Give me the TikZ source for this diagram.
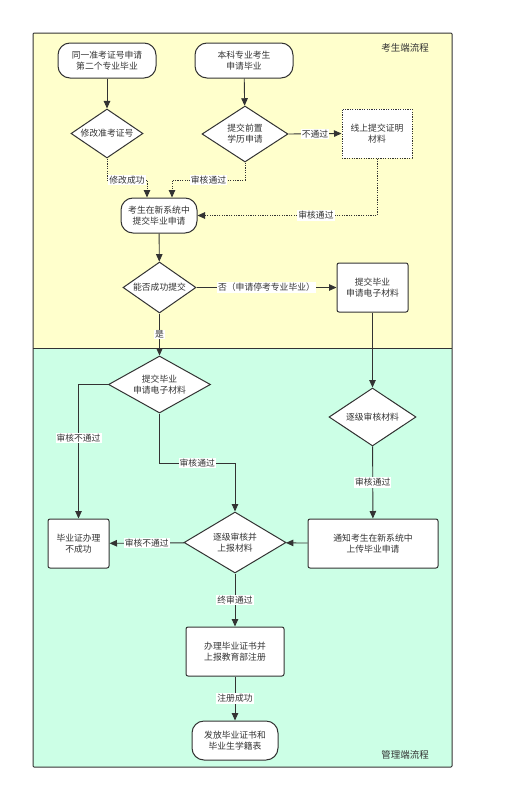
\documentclass[tikz,border=0pt]{standalone}
\usepackage{fontspec}
\newfontfamily\cjk{Noto Sans CJK SC}
\usetikzlibrary{shapes.geometric,arrows.meta,calc}
\definecolor{ylw}{HTML}{FFFFCC}
\definecolor{grn}{HTML}{CCFFE6}
\definecolor{ln}{HTML}{333333}
\begin{document}
\begin{tikzpicture}[x=1pt,y=-1pt,
  every node/.style={font=\cjk\fontsize{8.8}{11}\selectfont,text=ln,align=center},
  term/.style={draw=ln,line width=1pt,fill=white,rounded corners=12pt,inner sep=0pt},
  proc/.style={draw=ln,line width=1pt,fill=white,rounded corners=2pt,inner sep=0pt},
  dproc/.style={draw=ln,line width=1pt,fill=white,dash pattern=on 1.2pt off 1.2pt,inner sep=0pt},
  dec/.style={draw=ln,line width=1pt,fill=white,diamond,shape aspect=1.7,inner sep=0pt},
  arr/.style={draw=ln,line width=0.9pt,-{Triangle[length=7.5pt,width=6.5pt]}},
  darr/.style={arr,dash pattern=on 1.2pt off 1.2pt},
  lbl/.style={fill=white,inner sep=1pt}]
\useasboundingbox (0,0) rectangle (505,811);
% lanes
\fill[ylw] (33,33) rectangle (452,348);
\fill[grn] (33,348) rectangle (452,767);
\draw[ln,line width=1pt,rounded corners=1pt] (33,33) rectangle (452,767);
\draw[ln,line width=1pt] (33,348) -- (452,348);
\node (lane1) at (405,48) {\fontsize{9.5}{11}\selectfont 考生端流程};
\node (lane2) at (405,755) {\fontsize{9.5}{11}\selectfont 管理端流程};
% nodes
\node[term,minimum width=98pt,minimum height=35pt] (A) at (107,60.5) {同一准考证号申请\\第二个专业毕业};
\node[term,minimum width=98pt,minimum height=35pt] (B) at (244,60.5) {本科专业考生\\申请毕业};
\node[dec,minimum width=72pt,minimum height=49pt] (D1) at (107,133.5) {修改准考证号};
\node[dec,minimum width=86pt,minimum height=56pt] (D2) at (245,134) {提交前置\\学历申请};
\node[dproc,minimum width=70pt,minimum height=49pt] (C) at (377,133.5) {线上提交证明\\材料};
\node[term,minimum width=76pt,minimum height=35pt] (E) at (159,215.5) {考生在新系统中\\提交毕业申请};
\node[dec,minimum width=73pt,minimum height=51pt] (D3) at (159.5,287.5) {能否成功提交};
\node[proc,minimum width=71pt,minimum height=49pt] (F) at (372.5,287.5) {提交毕业\\申请电子材料};
\node[dec,minimum width=102pt,minimum height=57pt] (D4) at (159.5,384.5) {提交毕业\\申请电子材料};
\node[dec,minimum width=87pt,minimum height=58pt] (D5) at (372.5,417) {逐级审核材料};
\node[proc,minimum width=61pt,minimum height=49pt] (G) at (78.5,543.5) {毕业证办理\\不成功};
\node[dec,minimum width=102pt,minimum height=61pt] (D6) at (235,542.5) {逐级审核并\\上报材料};
\node[proc,minimum width=130pt,minimum height=49pt] (H) at (373,543.5) {通知考生在新系统中\\上传毕业申请};
\node[proc,minimum width=98pt,minimum height=49pt] (I) at (235,651.5) {办理毕业证书并\\上报教育部注册};
\node[term,minimum width=86pt,minimum height=39pt] (J) at (235,740.5) {发放毕业证书和\\毕业生学籍表};
% helper coordinates
\coordinate (e1) at ($(E.north)+(-12,0)$);
\coordinate (e2) at ($(E.north)+(13,0)$);
% connectors
\draw[arr] (A) -- (D1);
\draw[arr] (B) -- (D2);
\draw[arr] (D2.east) -- node[lbl]{不通过} (C.west);
\draw[darr] (D1.south) -- (D1.south |- 0,180) -- node[lbl]{修改成功} (e1 |- 0,180) -- (e1);
\draw[darr] (D2.south) -- (D2.south |- 0,180) -- node[lbl]{审核通过} (e2 |- 0,180) -- (e2);
\draw[darr] (C.south) -- (C.south |- E.east) -- node[lbl,pos=0.34]{审核通过} (E.east);
\draw[arr] (E) -- (D3);
\draw[arr] (D3.east) -- node[lbl]{否（申请停考专业毕业）} (F.west);
\draw[arr] (D3.south) -- node[lbl,pos=0.5]{是} (D4.north);
\draw[arr] (F) -- (D5);
\draw[arr] (D4.west) -- (G.north |- D4.west) -- node[lbl,pos=0.4]{审核不通过} (G.north);
\draw[arr] (D4.south) -- (D4.south |- 0,463) -- node[lbl]{审核通过} (D6.north |- 0,463) -- (D6.north);
\draw[arr] (D5) -- node[lbl]{审核通过} (H);
\draw[arr] (H) -- (D6);
\draw[arr] (D6) -- node[lbl]{审核不通过} (G);
\draw[arr] (D6) -- node[lbl]{终审通过} (I);
\draw[arr] (I) -- node[lbl]{注册成功} (J);
\end{tikzpicture}
\end{document}
